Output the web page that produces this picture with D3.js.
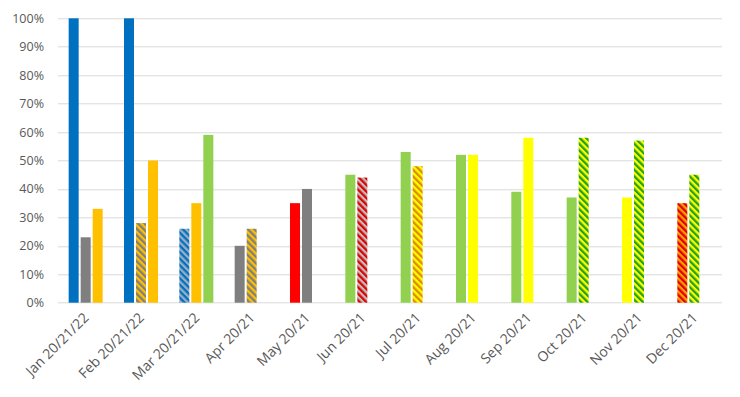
<!DOCTYPE html>
<html>
<head>
<meta charset="utf-8">
<script src="https://cdn.jsdelivr.net/npm/d3@7"></script>
<style>
    body { margin: 0; background: #ffffff; }
    #container { width: 740px; height: 397px; }
</style>
</head>
<body>
<div id="container"></div>
<script>
// Data
const categories = ["Jan 20/21/22", "Feb 20/21/22", "Mar 20/21/22", "Apr 20/21", "May 20/21", "Jun 20/21",
                    "Jul 20/21", "Aug 20/21", "Sep 20/21", "Oct 20/21", "Nov 20/21", "Dec 20/21"];
const slots = ["s1", "s2", "s3"];
// value per slot (percent), null = no bar
const values = [
    [100, 23, 33],
    [100, 28, 50],
    [26, 35, 59],
    [20, 26, null],
    [35, 40, null],
    [45, 44, null],
    [53, 48, null],
    [52, 52, null],
    [39, 58, null],
    [37, 58, null],
    [37, 57, null],
    [35, 45, null]
];
// rating of each bar
const ratings = [
    ["B", "Gy", "A"],
    ["B", "A/Gy", "A"],
    ["B/Gy", "A", "G"],
    ["Gy", "A/Gy", null],
    ["R", "Gy", null],
    ["G", "Gy/R", null],
    ["G", "Y/O", null],
    ["G", "Y", null],
    ["G", "Y", null],
    ["G", "Y/G", null],
    ["Y", "Y/G", null],
    ["O/R", "Y/G", null]
];
const yTicks = [0, 10, 20, 30, 40, 50, 60, 70, 80, 90, 100];

// Styles
const solidColors = { "B": "#0070C0", "Gy": "#7F7F7F", "A": "#FFC000", "G": "#92D050", "R": "#FF0000", "Y": "#FFFF00" };
const hatchColors = {
    "A/Gy": ["#FFC000", "#7F7F7F"],
    "B/Gy": ["#0070C0", "#9BAFC4"],
    "Gy/R": ["#BFBFBF", "#E00000"],
    "Y/O":  ["#FFFF00", "#E08A00"],
    "Y/G":  ["#FFFF00", "#22A020"],
    "O/R":  ["#FFA000", "#E00000"]
};

const width = 740, height = 397;
var margin = { top: 18.3, right: 18, bottom: 94.3, left: 58 };
var plotW = width - margin.left - margin.right,
    plotH = height - margin.top - margin.bottom;

var svg = d3.select("#container")
    .append("svg")
    .attr("width", width)
    .attr("height", height)
    .style("display", "block");

// Hatch patterns
const hatchSize = 4.6;
var defs = svg.append("defs");
Object.keys(hatchColors).forEach((key, i) => {
    var c = hatchColors[key];
    var p = defs.append("pattern")
        .attr("id", "hatch" + i)
        .attr("patternUnits", "userSpaceOnUse")
        .attr("width", hatchSize)
        .attr("height", hatchSize)
        .attr("patternTransform", "rotate(-45)");
    p.append("rect").attr("width", hatchSize).attr("height", hatchSize).attr("fill", c[0]);
    p.append("rect").attr("width", hatchSize / 2).attr("height", hatchSize).attr("fill", c[1]);
});
function fillFor(r)
{
    if (r in solidColors) return solidColors[r];
    return "url(#hatch" + Object.keys(hatchColors).indexOf(r) + ")";
}

var g = svg.append("g")
    .attr("transform", "translate(" + margin.left + "," + margin.top + ")");

// Scales
var x = d3.scaleBand()
    .domain(categories)
    .range([0, plotW])
    .padding(0);

var xs = d3.scaleBand()
    .domain(slots)
    .range([x.bandwidth() / 2 - 17 - 1, x.bandwidth() / 2 + 17 + 1])
    .paddingInner(2 / 12)
    .paddingOuter(1 / 12);

var y = d3.scaleLinear()
    .domain([0, 100])
    .range([plotH, 0]);

// Gridlines
g.append("g")
    .selectAll("line")
    .data(yTicks)
    .join("line")
    .attr("x1", 0)
    .attr("x2", plotW)
    .attr("y1", d => Math.round(y(d)) + 0.5)
    .attr("y2", d => Math.round(y(d)) + 0.5)
    .attr("stroke", "#D9D9D9")
    .attr("stroke-width", 1);

// Y axis labels
var yAxis = g.append("g")
    .call(d3.axisLeft(y).tickValues(yTicks).tickSize(0).tickPadding(14).tickFormat(d => d + "%"));
yAxis.select(".domain").remove();
yAxis.selectAll("text")
    .attr("fill", "#595959")
    .style("font-family", "'Open Sans', sans-serif")
    .style("font-size", "12.5px");

// Bars
var groups = g.append("g")
    .selectAll("g")
    .data(categories)
    .join("g")
    .attr("transform", d => "translate(" + x(d) + ",0)");

groups.selectAll("rect")
    .data((d, i) => slots.map((s, j) => ({ slot: s, value: values[i][j], rating: ratings[i][j] }))
        .filter(b => b.value !== null))
    .join("rect")
    .attr("x", d => xs(d.slot))
    .attr("width", xs.bandwidth())
    .attr("y", d => y(d.value))
    .attr("height", d => y(0) - y(d.value))
    .attr("fill", d => fillFor(d.rating));

// X axis labels
g.append("g")
    .selectAll("text")
    .data(categories)
    .join("text")
    .attr("transform", d => "translate(" + (x(d) + x.bandwidth() / 2 + 4) + "," + (plotH + 16) + ") rotate(-45)")
    .attr("text-anchor", "end")
    .attr("fill", "#595959")
    .style("font-family", "'Open Sans', sans-serif")
    .style("font-size", "14px")
    .text(d => d);
</script>
</body>
</html>
